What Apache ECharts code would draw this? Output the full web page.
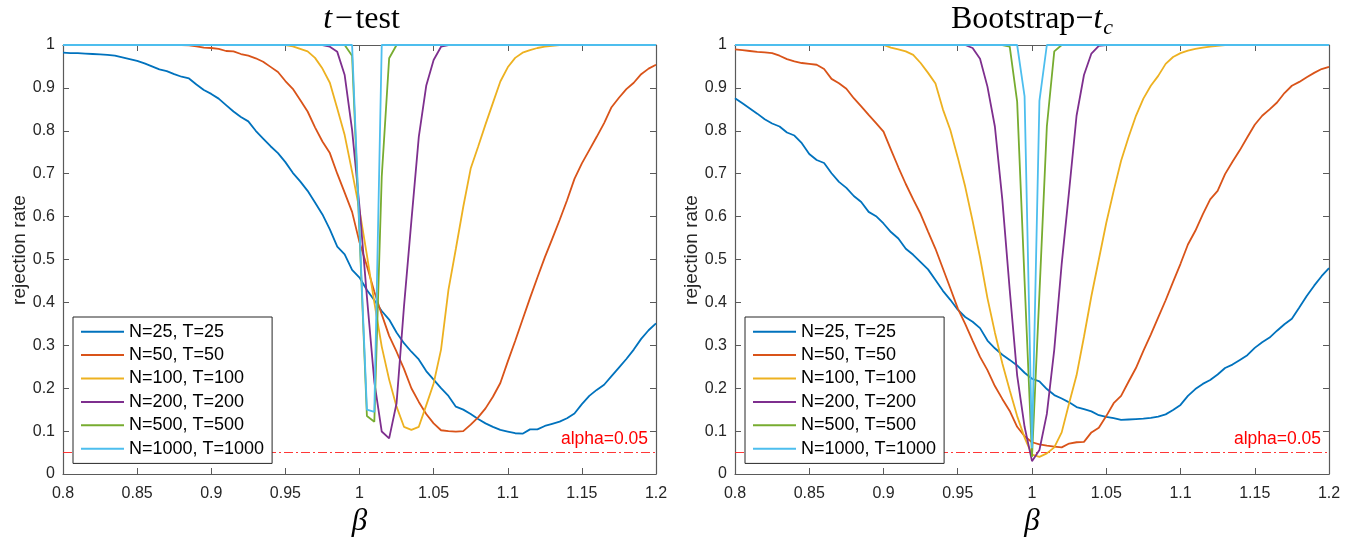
<!DOCTYPE html>
<html><head><meta charset="utf-8">
<script src="https://cdn.jsdelivr.net/npm/echarts@6/dist/echarts.min.js"></script>
<style>html,body{margin:0;padding:0;background:#fff}#c{width:1353px;height:541px}</style>
</head><body><div id="c"></div>
<script>
// ---- data ----
const beta = [
 0.8,0.805,0.81,0.815,0.82,0.825,0.83,0.835,0.84,0.845,
 0.85,0.855,0.86,0.865,0.87,0.875,0.88,0.885,0.89,0.895,
 0.9,0.905,0.91,0.915,0.92,0.925,0.93,0.935,0.94,0.945,
 0.95,0.955,0.96,0.965,0.97,0.975,0.98,0.985,0.99,0.995,
 1,1.005,1.01,1.015,1.02,1.025,1.03,1.035,1.04,1.045,
 1.05,1.055,1.06,1.065,1.07,1.075,1.08,1.085,1.09,1.095,
 1.1,1.105,1.11,1.115,1.12,1.125,1.13,1.135,1.14,1.145,
 1.15,1.155,1.16,1.165,1.17,1.175,1.18,1.185,1.19,1.195,
 1.2];
const seriesNames = ['N=25, T=25','N=50, T=50','N=100, T=100','N=200, T=200','N=500, T=500','N=1000, T=1000'];
const alpha = 0.05;

// t-test panel
const tt_n25 = [
 0.982,0.981,0.981,0.980,0.979,0.978,0.977,0.975,0.971,0.967,
 0.963,0.957,0.950,0.943,0.939,0.932,0.926,0.922,0.908,0.895,
 0.886,0.875,0.860,0.845,0.832,0.822,0.800,0.782,0.764,0.748,
 0.727,0.702,0.682,0.660,0.633,0.605,0.570,0.530,0.512,0.476,
 0.458,0.429,0.405,0.380,0.360,0.330,0.305,0.285,0.267,0.240,
 0.220,0.200,0.182,0.157,0.150,0.140,0.128,0.118,0.110,0.103,
 0.099,0.095,0.094,0.104,0.104,0.112,0.117,0.122,0.130,0.141,
 0.163,0.182,0.196,0.208,0.228,0.248,0.268,0.290,0.315,0.335,
 0.351];
const tt_n50 = [
 1,1,1,1,1,1,1,1,1,1,
 1,1,1,1,1,1,1,0.999,0.997,0.994,
 0.993,0.991,0.986,0.985,0.979,0.975,0.969,0.961,0.949,0.937,
 0.916,0.898,0.872,0.845,0.808,0.775,0.748,0.700,0.656,0.611,
 0.540,0.485,0.425,0.372,0.322,0.285,0.245,0.200,0.168,0.140,
 0.118,0.102,0.100,0.099,0.100,0.115,0.132,0.153,0.180,0.212,
 0.262,0.310,0.360,0.410,0.458,0.505,0.548,0.592,0.638,0.688,
 0.724,0.755,0.786,0.818,0.855,0.877,0.897,0.912,0.932,0.945,
 0.954];
const tt_n100 = [
 1,1,1,1,1,1,1,1,1,1,
 1,1,1,1,1,1,1,1,1,1,
 1,1,1,1,1,1,1,1,1,1,
 1,0.997,0.991,0.985,0.970,0.945,0.912,0.852,0.790,0.705,
 0.615,0.510,0.400,0.297,0.220,0.157,0.110,0.103,0.110,0.160,
 0.211,0.290,0.429,0.525,0.623,0.712,0.763,0.815,0.865,0.915,
 0.948,0.970,0.982,0.988,0.993,0.996,0.998,1,1,1,
 1,1,1,1,1,1,1,1,1,1,
 1];
const tt_n200 = [
 1,1,1,1,1,1,1,1,1,1,
 1,1,1,1,1,1,1,1,1,1,
 1,1,1,1,1,1,1,1,1,1,
 1,1,1,1,1,1,0.996,0.984,0.930,0.802,
 0.623,0.413,0.215,0.099,0.083,0.165,0.390,0.590,0.786,0.905,
 0.965,0.996,1,1,1,1,1,1,1,1,
 1,1,1,1,1,1,1,1,1,1,
 1,1,1,1,1,1,1,1,1,1,
 1];
const tt_n500 = [
 1,1,1,1,1,1,1,1,1,1,
 1,1,1,1,1,1,1,1,1,1,
 1,1,1,1,1,1,1,1,1,1,
 1,1,1,1,1,1,1,1,1,0.975,
 0.560,0.135,0.122,0.693,0.969,1,1,1,1,1,
 1,1,1,1,1,1,1,1,1,1,
 1,1,1,1,1,1,1,1,1,1,
 1,1,1,1,1,1,1,1,1,1,
 1];
const tt_n1000 = [
 1,1,1,1,1,1,1,1,1,1,
 1,1,1,1,1,1,1,1,1,1,
 1,1,1,1,1,1,1,1,1,1,
 1,1,1,1,1,1,1,1,1,1,
 0.570,0.150,0.145,1,1,1,1,1,1,1,
 1,1,1,1,1,1,1,1,1,1,
 1,1,1,1,1,1,1,1,1,1,
 1,1,1,1,1,1,1,1,1,1,
 1];

// Bootstrap-t_c panel
const bs_n25 = [
 0.876,0.864,0.852,0.840,0.827,0.817,0.810,0.796,0.789,0.771,
 0.746,0.732,0.725,0.701,0.681,0.667,0.648,0.634,0.611,0.601,
 0.584,0.564,0.549,0.525,0.511,0.494,0.477,0.452,0.427,0.406,
 0.383,0.366,0.355,0.340,0.311,0.293,0.278,0.266,0.253,0.236,
 0.222,0.216,0.198,0.184,0.176,0.167,0.156,0.151,0.146,0.137,
 0.133,0.130,0.126,0.127,0.128,0.129,0.131,0.134,0.139,0.149,
 0.161,0.182,0.198,0.210,0.219,0.232,0.247,0.255,0.266,0.277,
 0.294,0.307,0.318,0.334,0.349,0.362,0.388,0.415,0.439,0.461,
 0.480];
const bs_n50 = [
 0.990,0.988,0.986,0.984,0.983,0.981,0.975,0.967,0.962,0.958,
 0.956,0.954,0.944,0.921,0.911,0.898,0.876,0.857,0.837,0.818,
 0.798,0.756,0.715,0.676,0.640,0.606,0.565,0.525,0.479,0.433,
 0.386,0.350,0.311,0.273,0.242,0.205,0.175,0.147,0.110,0.088,
 0.074,0.069,0.066,0.064,0.062,0.071,0.074,0.075,0.097,0.108,
 0.135,0.165,0.182,0.215,0.247,0.287,0.325,0.365,0.405,0.448,
 0.490,0.535,0.567,0.605,0.640,0.660,0.699,0.728,0.755,0.785,
 0.814,0.835,0.850,0.866,0.888,0.905,0.914,0.925,0.935,0.944,
 0.949];
const bs_n100 = [
 1,1,1,1,1,1,1,1,1,1,
 1,1,1,1,1,1,1,1,1,1,
 1,0.994,0.990,0.985,0.977,0.958,0.935,0.910,0.850,0.802,
 0.738,0.670,0.590,0.505,0.410,0.330,0.258,0.195,0.135,0.085,
 0.045,0.040,0.048,0.062,0.097,0.165,0.230,0.320,0.415,0.500,
 0.585,0.660,0.730,0.785,0.835,0.875,0.905,0.928,0.956,0.972,
 0.981,0.987,0.991,0.994,0.996,0.998,1,1,1,1,
 1,1,1,1,1,1,1,1,1,1,
 1];
const bs_n200 = [
 1,1,1,1,1,1,1,1,1,1,
 1,1,1,1,1,1,1,1,1,1,
 1,1,1,1,1,1,1,1,1,1,
 1,1,0.993,0.968,0.903,0.810,0.640,0.429,0.230,0.110,
 0.030,0.056,0.140,0.290,0.490,0.660,0.835,0.930,0.980,0.998,
 1,1,1,1,1,1,1,1,1,1,
 1,1,1,1,1,1,1,1,1,1,
 1,1,1,1,1,1,1,1,1,1,
 1];
const bs_n500 = [
 1,1,1,1,1,1,1,1,1,1,
 1,1,1,1,1,1,1,1,1,1,
 1,1,1,1,1,1,1,1,1,1,
 1,1,1,1,1,1,1,0.996,0.868,0.450,
 0.040,0.420,0.810,0.985,1,1,1,1,1,1,
 1,1,1,1,1,1,1,1,1,1,
 1,1,1,1,1,1,1,1,1,1,
 1,1,1,1,1,1,1,1,1,1,
 1];
const bs_n1000 = [
 1,1,1,1,1,1,1,1,1,1,
 1,1,1,1,1,1,1,1,1,1,
 1,1,1,1,1,1,1,1,1,1,
 1,1,1,1,1,1,1,1,1,0.880,
 0.060,0.870,1,1,1,1,1,1,1,1,
 1,1,1,1,1,1,1,1,1,1,
 1,1,1,1,1,1,1,1,1,1,
 1,1,1,1,1,1,1,1,1,1,
 1];

const panels = [
  [tt_n25, tt_n50, tt_n100, tt_n200, tt_n500, tt_n1000],
  [bs_n25, bs_n50, bs_n100, bs_n200, bs_n500, bs_n1000]
];
const colors = ['#0072BD','#D95319','#EDB120','#7E2F8E','#77AC30','#4DBEEE'];

// ---- chart ----
const SANS = 'Liberation Sans, Arial, sans-serif';
const SERIF = 'Liberation Serif, Times New Roman, serif';
const AX = '#5a5a5a';
const chart = echarts.init(document.getElementById('c'), null, {renderer:'canvas'});

const gridBoxes = [
  {left:63, right:697, top:45, bottom:67},
  {left:735, right:24, top:45, bottom:67}
];
const fmt = v => String(+v.toFixed(2));

const xAxes = [], yAxes = [], series = [], legends = [];
gridBoxes.forEach((g, gi) => {
  ['bottom','top'].forEach((pos, k) => xAxes.push({
    gridIndex: gi, type:'value', min:0.8, max:1.2, interval:0.05, position:pos,
    axisLine:{show:true, onZero:false, lineStyle:{color:AX, width:1.2}},
    axisTick:{show:true, inside:true, length:6, lineStyle:{color:AX, width:1}},
    axisLabel:{show:k===0, formatter:fmt, color:'#262626', fontSize:16, fontFamily:SANS, margin:12, showMinLabel:true, showMaxLabel:true, hideOverlap:false},
    splitLine:{show:false}
  }));
  ['left','right'].forEach((pos, k) => yAxes.push({
    gridIndex: gi, type:'value', min:0, max:1, interval:0.1, position:pos,
    axisLine:{show:true, onZero:false, lineStyle:{color:AX, width:1.2}},
    axisTick:{show:true, inside:true, length:6, lineStyle:{color:AX, width:1}},
    axisLabel:{show:k===0, formatter:fmt, color:'#262626', fontSize:16, fontFamily:SANS, margin:8, showMinLabel:true, showMaxLabel:true, hideOverlap:false},
    splitLine:{show:false}
  }));
  panels[gi].forEach((vals, si) => {
    const s = {
      type:'line', name: seriesNames[si], xAxisIndex: gi*2, yAxisIndex: gi*2,
      data: beta.map((b, k) => [b, vals[k]]),
      symbol:'none', clip:false, animation:false,
      lineStyle:{color:colors[si], width:1.8},
      itemStyle:{color:colors[si]},
      z: 2
    };
    if (si === 0) {
      s.markLine = {
        silent:true, symbol:'none', animation:false, z:1,
        data:[{yAxis: alpha}],
        lineStyle:{color:'#ff2020', width:0.9, type:[9,3,2,3]},
        label:{show:true, position:'insideEndTop', formatter:'alpha=' + alpha,
               color:'#ff0000', fontSize:17.5, fontFamily:SANS, distance:[8,4]}
      };
    }
    series.push(s);
  });
  legends.push({
    show:true, orient:'vertical', left: g.left + 10, top: 317, z:50, zlevel:0,
    data: seriesNames, icon:'rect', itemWidth:43, itemHeight:2, itemGap:0,
    padding:[3,8,3,8], borderColor:'#262626', borderWidth:1, backgroundColor:'#fff',
    selectedMode:false,
    textStyle:{fontSize:18, lineHeight:23.4, color:'#000', fontFamily:SANS}
  });
});

const centers = [ (63 + 656)/2, (735 + 1329)/2 ];
const graphics = [];
// titles
graphics.push({type:'text', x:centers[0] + 2, y:20, style:{
  text:'{i|t}{n|\u200A\u2212\u200Atest}', align:'center', verticalAlign:'middle',
  rich:{i:{fontFamily:SERIF, fontStyle:'italic', fontSize:32, fill:'#000'},
        n:{fontFamily:SERIF, fontSize:32, fill:'#000'}}}});
graphics.push({type:'text', x:centers[1], y:20, style:{
  text:'{n|Bootstrap\u2212}{i|t}{s|c}', align:'center', verticalAlign:'middle',
  rich:{i:{fontFamily:SERIF, fontStyle:'italic', fontSize:32, fill:'#000'},
        n:{fontFamily:SERIF, fontSize:32, fill:'#000'},
        s:{fontFamily:SERIF, fontStyle:'italic', fontSize:22, fill:'#000', verticalAlign:'top', padding:[16,0,0,1]}}}});
// axis names
[20, 692].forEach(x => graphics.push({type:'text', x:x, y:250, rotation:Math.PI/2, style:{
  text:'rejection rate', align:'center', verticalAlign:'middle', fontSize:19, fontFamily:SANS, fill:'#262626'}}));
centers.forEach(x => graphics.push({type:'text', x:x, y:522, style:{
  text:'\u03B2', align:'center', verticalAlign:'middle', fontSize:31, fontStyle:'italic', fontFamily:SERIF, fill:'#000'}}));

chart.setOption({
  animation:false,
  backgroundColor:'#fff',
  grid: gridBoxes.map(g => Object.assign({containLabel:false, outerBoundsMode:'none'}, g)),
  xAxis: xAxes, yAxis: yAxes,
  legend: legends,
  series: series,
  graphic: graphics
});
</script></body></html>
